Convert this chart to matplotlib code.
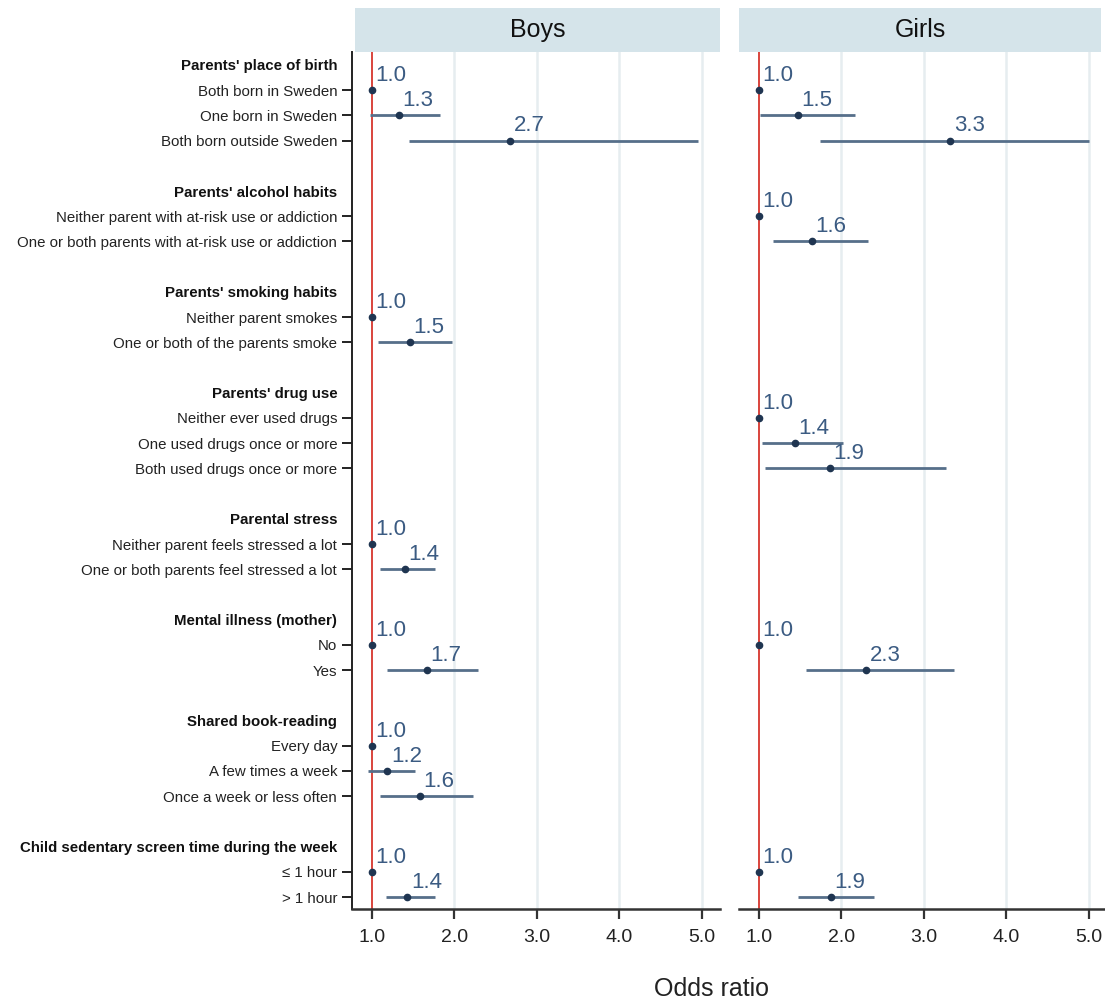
import matplotlib
matplotlib.use("Agg")
import matplotlib.pyplot as plt

plt.rcParams['font.family'] = ['Liberation Sans', 'DejaVu Sans']

# ---------------- data ----------------
group_names = [
    "Parents' place of birth",
    "Parents' alcohol habits",
    "Parents' smoking habits",
    "Parents' drug use",
    "Parental stress",
    "Mental illness (mother)",
    "Shared book-reading",
    "Child sedentary screen time during the week",
]
group_items = [
    ["Both born in Sweden", "One born in Sweden", "Both born outside Sweden"],
    ["Neither parent with at-risk use or addiction",
     "One or both parents with at-risk use or addiction"],
    ["Neither parent smokes", "One or both of the parents smoke"],
    ["Neither ever used drugs", "One used drugs once or more",
     "Both used drugs once or more"],
    ["Neither parent feels stressed a lot", "One or both parents feel stressed a lot"],
    ["No", "Yes"],
    ["Every day", "A few times a week", "Once a week or less often"],
    ["\u2264 1 hour", "> 1 hour"],
]

N = None
boys_or = [[1.0, 1.33, 2.68], [N, N], [1.0, 1.46], [N, N, N],
           [1.0, 1.40], [1.0, 1.67], [1.0, 1.19, 1.58], [1.0, 1.43]]
boys_lo = [[1.0, 0.98, 1.45], [N, N], [1.0, 1.08], [N, N, N],
           [1.0, 1.10], [1.0, 1.19], [1.0, 0.95, 1.10], [1.0, 1.17]]
boys_hi = [[1.0, 1.83, 4.95], [N, N], [1.0, 1.97], [N, N, N],
           [1.0, 1.77], [1.0, 2.29], [1.0, 1.52, 2.23], [1.0, 1.76]]

girls_or = [[1.0, 1.47, 3.32], [1.0, 1.64], [N, N], [1.0, 1.44, 1.86],
            [N, N], [1.0, 2.30], [N, N, N], [1.0, 1.87]]
girls_lo = [[1.0, 1.01, 1.74], [1.0, 1.17], [N, N], [1.0, 1.04, 1.07],
            [N, N], [1.0, 1.57], [N, N, N], [1.0, 1.47]]
girls_hi = [[1.0, 2.17, 5.00], [1.0, 2.32], [N, N], [1.0, 2.02, 3.27],
            [N, N], [1.0, 3.36], [N, N, N], [1.0, 2.40]]

panel_titles = ["Boys", "Girls"]
x_ticks = [1.0, 2.0, 3.0, 4.0, 5.0]
x_label = "Odds ratio"

# ---------------- layout of rows ----------------
row_labels, row_is_header, row_index = [], [], []
pos = 0
flat_pos = []
for g, (name, items) in enumerate(zip(group_names, group_items)):
    row_labels.append(name); row_is_header.append(True); row_index.append(pos)
    pos += 1
    gpos = []
    for it in items:
        row_labels.append(it); row_is_header.append(False); row_index.append(pos)
        gpos.append(pos)
        pos += 1
    flat_pos.append(gpos)
    pos += 1  # blank spacer
n_rows = pos - 1

W, H = 1105, 1006
fig = plt.figure(figsize=(W / 100, H / 100), dpi=100)

ci_color = "#566f8a"
pt_color = "#1f3551"
lab_color = "#3b5b82"
ref_color = "#d9443c"
grid_color = "#e6edf0"
head_color = "#d5e4ea"

ax_bottom = 1 - 909 / H
ax_top = 1 - 52 / H
ax_h = ax_top - ax_bottom
ax_w = 368 / W
lefts = [352 / W, 739 / W]

panels = [(boys_or, boys_lo, boys_hi), (girls_or, girls_lo, girls_hi)]

for p, (orv, lov, hiv) in enumerate(panels):
    ax = fig.add_axes([lefts[p], ax_bottom, ax_w, ax_h])
    ax.set_xlim(0.76, 5.22)
    ax.set_ylim(n_rows - 1 + 0.475, -0.515)
    for xv in x_ticks[1:]:
        ax.axvline(xv, color=grid_color, lw=1.8, zorder=0)
    ax.axvline(1.0, color=ref_color, lw=1.4, zorder=1)

    for g in range(len(group_names)):
        for k, y in enumerate(flat_pos[g]):
            v = orv[g][k]
            if v is None:
                continue
            lo, hi = lov[g][k], hiv[g][k]
            if hi > lo:
                ax.plot([lo, hi], [y, y], color=ci_color, lw=2.0,
                        solid_capstyle='butt', zorder=2)
            ax.plot([v], [y], 'o', color=pt_color, ms=4.5, zorder=3)
            ax.annotate(f"{v:.1f}", (v, y), xytext=(2.5, 3.0),
                        textcoords='offset points', ha='left', va='bottom',
                        fontsize=16, color=lab_color, zorder=4)

    ax.set_xticks(x_ticks)
    ax.set_xticklabels([f"{t:.1f}" for t in x_ticks], fontsize=14, color="#222222")
    ax.tick_params(axis='x', length=7.5, width=1.6, color="#333333", pad=7)
    for s in ['top', 'right']:
        ax.spines[s].set_visible(False)
    ax.spines['bottom'].set_linewidth(1.8)
    ax.spines['bottom'].set_color("#333333")

    if p == 0:
        ax.set_yticks(row_index)
        ax.set_yticklabels(row_labels, fontsize=10.8, color="#222222")
        ax.tick_params(axis='y', length=7.2, width=1.4, color="#222222", pad=3.5)
        ax.spines['left'].set_linewidth(1.4)
        ax.spines['left'].set_color("#222222")
        for tick, lab, hdr in zip(ax.yaxis.get_major_ticks(), ax.get_yticklabels(), row_is_header):
            if hdr:
                tick.tick1line.set_visible(False)
                lab.set_fontweight('bold')
                lab.set_color("#111111")
    else:
        ax.set_yticks([])
        ax.spines['left'].set_visible(False)

    # header strip
    hx = fig.add_axes([lefts[p] + (3 / W if p == 0 else 0), 1 - 52 / H,
                       (365 if p == 0 else 362) / W, 44 / H])
    hx.set_facecolor(head_color)
    hx.set_xticks([]); hx.set_yticks([])
    for s in hx.spines.values():
        s.set_visible(False)
    hx.text(0.5, 0.5, panel_titles[p], ha='center', va='center',
            fontsize=18, color="#111111", transform=hx.transAxes)

fig.text(712 / W, 1 - 977 / H, x_label, ha='center', va='top', fontsize=18, color="#222222")

fig.savefig("out.png", dpi=100)
